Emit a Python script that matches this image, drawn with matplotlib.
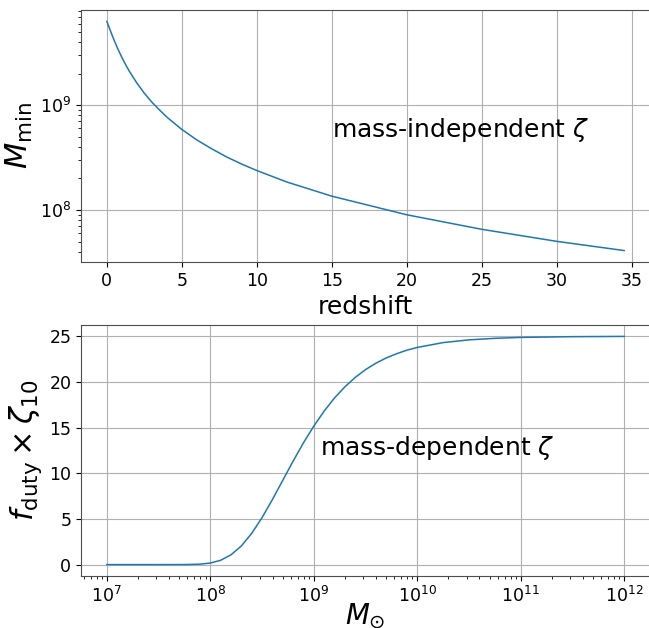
import matplotlib
matplotlib.use("Agg")
import matplotlib.pyplot as plt

# minimum halo mass against redshift (mass-independent efficiency)
redshift = [0, 0.1, 0.25, 0.35, 0.5, 0.6, 0.75, 1, 1.25, 1.5, 1.75, 2, 2.5,
            3, 3.5, 4, 5, 6, 7, 8, 9, 10, 12, 15, 20, 25, 30, 34.5]
m_min = [6.3e9, 5.78e9, 5.07e9, 4.66e9, 4.12e9, 3.82e9, 3.40e9, 2.86e9,
         2.44e9, 2.11e9, 1.85e9, 1.63e9, 1.30e9, 1.07e9, 9.04e8, 7.7e8,
         5.87e8, 4.66e8, 3.83e8, 3.20e8, 2.74e8, 2.38e8, 1.85e8, 1.355e8,
         9.0e7, 6.54e7, 5.02e7, 4.1e7]

# duty cycle times efficiency against halo mass (mass-dependent efficiency)
halo_mass = [1e7, 10**7.5, 10**7.75, 10**7.9, 1e8, 10**8.1, 10**8.2, 10**8.3,
             10**8.4, 10**8.5, 10**8.6, 10**8.7, 10**8.8, 10**8.9, 1e9,
             10**9.1, 10**9.2, 10**9.3, 10**9.4, 10**9.5, 10**9.6, 10**9.7,
             10**9.8, 10**9.9, 1e10, 10**10.25, 10**10.5, 10**10.75, 1e11,
             10**11.5, 1e12]
f_zeta = [0.0, 0.0, 0.003, 0.046, 0.17, 0.47, 1.07, 2.04, 3.42, 5.14, 7.12,
          9.22, 11.32, 13.33, 15.16, 16.8, 18.24, 19.46, 20.49, 21.35, 22.05,
          22.63, 23.09, 23.48, 23.78, 24.31, 24.61, 24.78, 24.88, 24.96, 24.99]

plt.rcParams['axes.edgecolor'] = '0.3'

fig = plt.figure(figsize=(6.49, 6.28), dpi=100)
ax1 = fig.add_axes([0.1248, 0.5828, 0.8767, 0.4013])
ax2 = fig.add_axes([0.1248, 0.0828, 0.8767, 0.3997])

ax1.plot(redshift, m_min, color='#1f77b4', lw=1.1)
ax1.set_yscale('log')
ax1.set_xlabel('redshift', fontsize=18)
ax1.set_ylabel(r'$M_{\rm min}$', fontsize=22)
ax1.text(15, 5e8, r'mass-independent $\zeta$', fontsize=18)
ax1.grid(True)
ax1.tick_params(labelsize=12.5)

ax2.plot(halo_mass, f_zeta, color='#1f77b4', lw=1.1)
ax2.set_xscale('log')
ax2.set_xlabel(r'$M_{\odot}$', fontsize=20, labelpad=-3)
ax2.set_ylabel(r'$f_{\rm duty} \times \zeta_{10}$', fontsize=22)
ax2.text(1.15e9, 12, r'mass-dependent $\zeta$', fontsize=18)
ax2.grid(True)
ax2.tick_params(labelsize=12.5)

fig.savefig('out.png', dpi=100)
